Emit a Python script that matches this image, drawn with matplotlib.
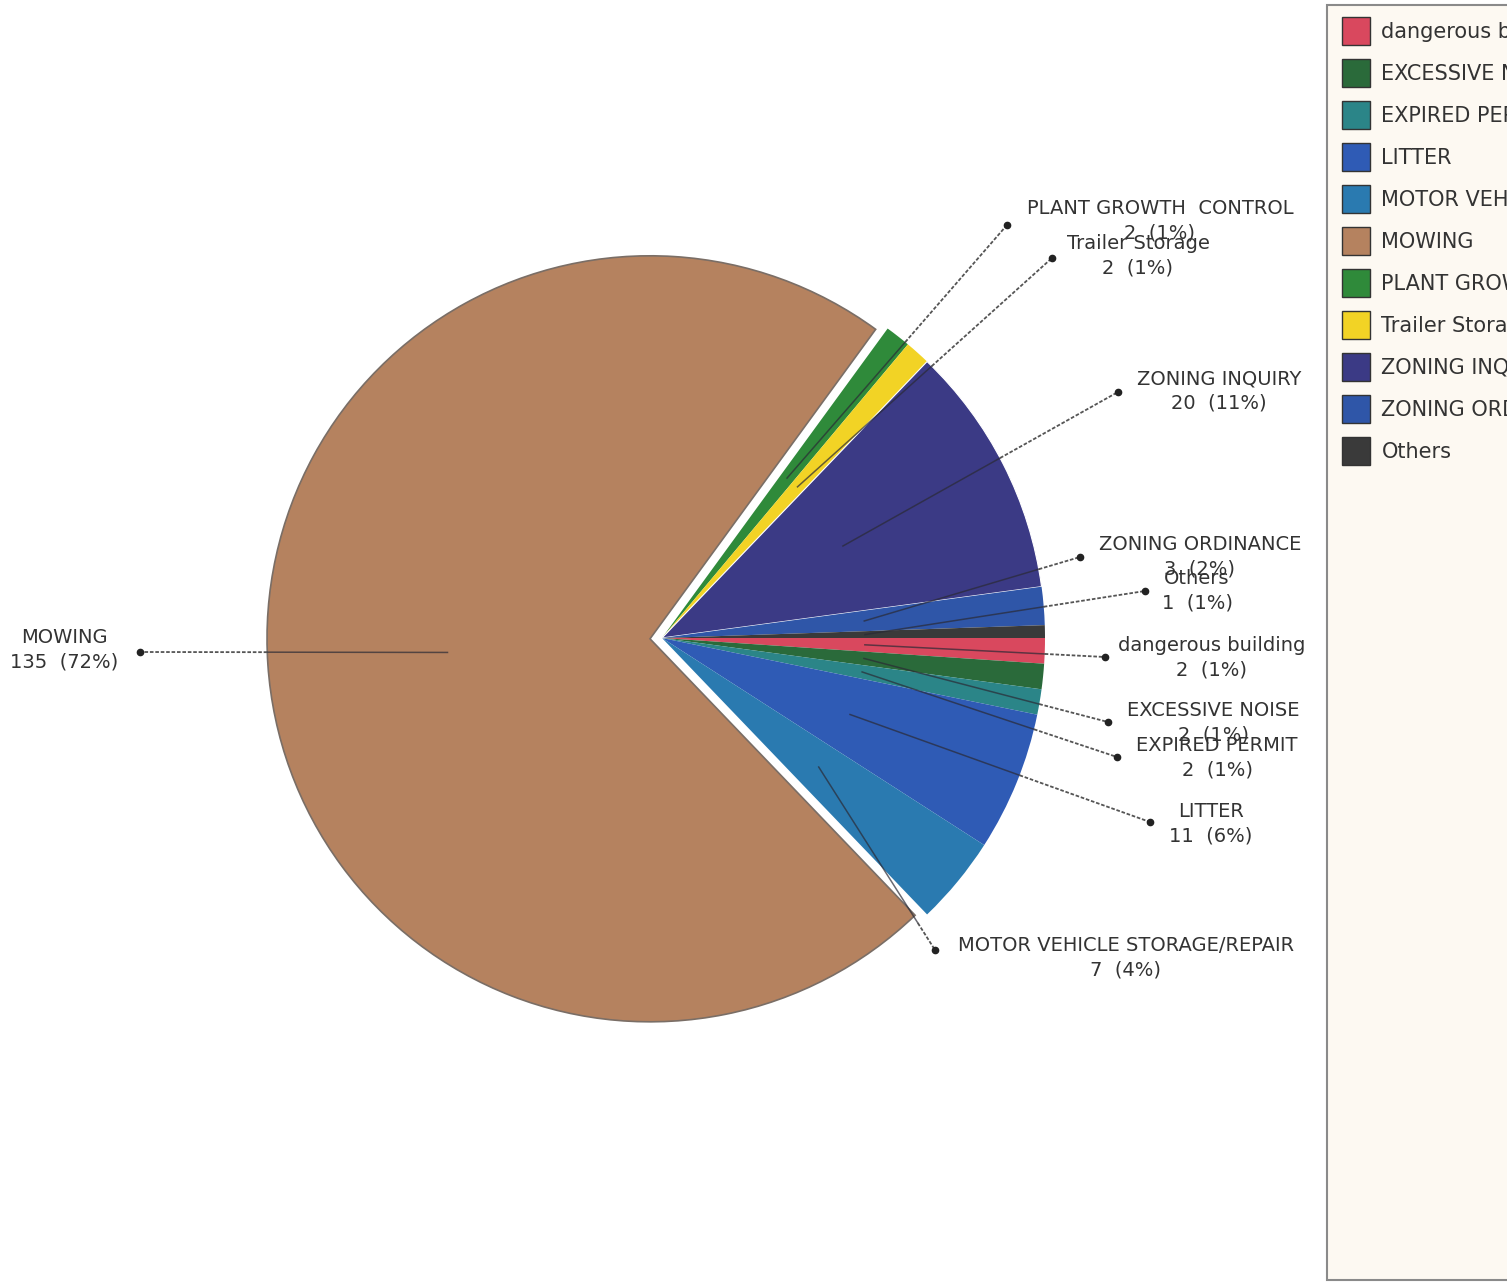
import numpy as np
import matplotlib
matplotlib.use("Agg")
import matplotlib.pyplot as plt
from matplotlib.patches import Patch, Rectangle

# ---------------- data ----------------
categories = ["dangerous building", "EXCESSIVE NOISE", "EXPIRED PERMIT", "LITTER",
              "MOTOR VEHICLE STORAGE/REPAIR", "MOWING", "PLANT GROWTH  CONTROL",
              "Trailer Storage", "ZONING INQUIRY", "ZONING ORDINANCE", "Others"]
counts = [2, 2, 2, 11, 7, 135, 2, 2, 20, 3, 1]
colors = ["#d9485e", "#2a6a3a", "#2b8588", "#2f5bb5", "#2a7ab0", "#b5825f",
          "#2f8a3a", "#f2d325", "#3b3a85", "#2f56a8", "#3a3a3a"]

# ---------------- layout (pixels) ----------------
W, H = 1507, 1283
pie_center_px = (662, 638)
pie_radius = 383
explode_px = [0, 0, 0, 0, 0, 12, 0, 0, 0, 0, 0]
label_text_px = [(1212, 658), (1213, 723), (1217, 758), (1211, 824), (1126, 958),
                 (64, 650), (1160, 221), (1138, 256), (1219, 391), (1200, 557), (1197, 591)]
label_dot_px = [(1105, 657), (1108, 722), (1117, 757), (1150, 822), (935, 950),
                (140, 652), (1007, 225), (1052, 258), (1118, 392), (1080, 557), (1145, 591)]

def px(p):
    return (p[0], H - p[1])

fig = plt.figure(figsize=(W / 100, H / 100), dpi=100)
fig.patch.set_facecolor("white")
ax = fig.add_axes([0, 0, 1, 1])

wedges, _ = ax.pie(counts, colors=colors, startangle=0, counterclock=False,
                   radius=pie_radius, center=px(pie_center_px),
                   frame=True, wedgeprops=dict(linewidth=0))
# explode (in pixels) by moving wedge centres along their mid-angle
for w, e in zip(wedges, explode_px):
    if e:
        th = np.deg2rad((w.theta1 + w.theta2) / 2)
        cx, cy = w.center
        w.set_center((cx + e * np.cos(th), cy + e * np.sin(th)))
wedges[5].set_edgecolor("#7a6e66")
wedges[5].set_linewidth(1.2)
wedges[8].set_edgecolor("white")
wedges[8].set_linewidth(0.8)

ax.set_xlim(0, W)
ax.set_ylim(0, H)
ax.set_aspect("equal")
ax.axis("off")

total = sum(counts)
for i, w in enumerate(wedges):
    cx, cy = w.center
    th = np.deg2rad((w.theta1 + w.theta2) / 2)
    sx, sy = cx + 0.53 * pie_radius * np.cos(th), cy + 0.53 * pie_radius * np.sin(th)
    ex, ey = px(label_dot_px[i])
    dx, dy = ex - sx, ey - sy
    fx, fy = sx - cx, sy - cy
    a = dx * dx + dy * dy
    b = 2 * (fx * dx + fy * dy)
    c = fx * fx + fy * fy - pie_radius ** 2
    t = (-b + np.sqrt(b * b - 4 * a * c)) / (2 * a)
    rx, ry = sx + t * dx, sy + t * dy
    ax.plot([sx, rx], [sy, ry], color="#2a2a35", lw=1.1, alpha=0.7, zorder=3)
    ax.plot([rx, ex], [ry, ey], color="#555555", lw=1.3,
            linestyle=(0, (2, 1)), zorder=3)
    ax.plot([ex], [ey], marker="o", ms=4.5, color="#222222", zorder=4)
    pct = int(round(counts[i] / total * 100))
    tx, ty = px(label_text_px[i])
    ax.text(tx, ty, f"{categories[i]}\n{counts[i]}  ({pct}%)", ha="center", va="center",
            fontsize=14, color="#333333", linespacing=1.34, family="DejaVu Sans", zorder=5)

# legend box
fig.patches.append(Rectangle((1327 / W, 1 - 1280 / H), (W - 1327 + 10) / W, (1280 - 5) / H,
                             transform=fig.transFigure, facecolor="#fdf9f2",
                             edgecolor="#8a8a8a", lw=1.5, zorder=0))
handles = [Patch(facecolor=c, edgecolor="#333333", lw=1) for c in colors]
fig.legend(handles=handles, labels=categories, loc="upper left",
           bbox_to_anchor=(1342 / W, 1 - 17 / H), frameon=False, fontsize=15,
           handlelength=1.344, handleheight=1.69, labelspacing=0.672, handletextpad=0.55,
           borderpad=0, borderaxespad=0, labelcolor="#333333")

fig.savefig("out.png", dpi=100)
